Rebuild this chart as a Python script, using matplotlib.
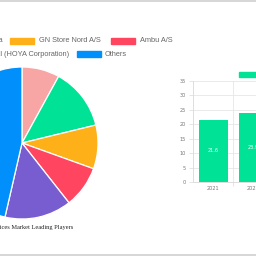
import matplotlib.pyplot as plt
from matplotlib.patches import Rectangle
from matplotlib.lines import Line2D

# pie data (share of market, %)
players = ["Boston Scientific", "Olympus America", "GN Store Nord A/S", "Ambu A/S",
           "Pentax Medical (HOYA Corporation)", "Others"]
shares = [8.0, 13.2, 9.3, 8.9, 14.2, 46.4]
pie_colors = ["#F8A5A6", "#00E396", "#FEB019", "#FF4560", "#775DD0", "#008FFB"]

# bar data
years = ["2021", "2022"]
sizes = [21.6, 23.9]
bar_color = "#00E396"

W = 256.0


def fx(px):
    return px / W


def fy(py):
    return 1 - py / W


fig = plt.figure(figsize=(2.56, 2.56), dpi=100)

# page separators
fig.add_artist(Line2D([0, 1], [fy(0.6)] * 2, color="#d0d0d0", lw=1.2))
fig.add_artist(Line2D([0, 1], [fy(255.4)] * 2, color="#d0d0d0", lw=1.2))

# ---- pie ----
cx, cy, r = 22, 143, 76
ax = fig.add_axes([fx(cx - r), fy(cy + r), 2 * r / W, 2 * r / W])
ax.pie(shares, colors=pie_colors, startangle=90, counterclock=False, radius=1,
       wedgeprops=dict(edgecolor="white", linewidth=0.9))
ax.set_xlim(-1, 1)
ax.set_ylim(-1, 1)
ax.set_aspect("equal")
ax.axis("off")

fig.text(fx(73), fy(227), "Single-Use Endoscopy Devices Market Leading Players",
         ha="right", va="center", fontsize=4.6, family="Liberation Serif", color="#222222")

# legend drawn by hand, two centred rows
legend_font = dict(fontsize=5.35, family="Liberation Sans", color="#666666", va="center")
row1 = [(players[1], -4, 3), (players[2], 10, 39), (players[3], 110.7, 139.7)]
row2 = [(players[4], -40, 69), (players[5], 76.7, 105)]
for items, yy in ((row1, 41), (row2, 54)):
    for lab, bx, tx in items:
        idx = players.index(lab)
        if bx >= 0:
            fig.add_artist(Rectangle((fx(bx), fy(yy + 3)), 24 / W, 6 / W,
                                     transform=fig.transFigure, color=pie_colors[idx]))
            fig.text(fx(tx), fy(yy), lab, ha="left", **legend_font)
        else:
            fig.text(fx(tx), fy(yy), lab, ha="right", **legend_font)

# ---- bars ----
bx = fig.add_axes([fx(193), fy(182), 80 / W, 101 / W])
pos = range(len(years))
bars = bx.bar(pos, sizes, width=0.725, color=bar_color, zorder=3)
for b, v in zip(bars, sizes):
    bx.text(b.get_x() + b.get_width() / 2, v / 2, f"{v}", ha="center", va="center",
            color="white", fontsize=3.6, zorder=4)
bx.set_xlim(-0.5, len(years) - 0.5)
bx.set_ylim(0, 35)
bx.set_yticks(range(0, 36, 5))
bx.set_xticks(list(pos))
bx.set_xticklabels(years)
bx.set_xticks([p + 0.5 for p in pos], minor=True)
bx.grid(axis="y", color="#e6e6e6", lw=0.6, zorder=0)
bx.grid(axis="x", which="minor", color="#e6e6e6", lw=0.6, zorder=0)
bx.tick_params(axis="both", which="major", labelsize=3.6, labelcolor="#777777",
               color="#e0e0e0", length=3, width=0.6, pad=2)
bx.tick_params(axis="x", which="major", length=0, pad=3)
bx.tick_params(axis="x", which="minor", length=3, color="#e0e0e0", width=0.6)
for s in ("top", "right"):
    bx.spines[s].set_visible(False)
for s in ("left", "bottom"):
    bx.spines[s].set_color("#dddddd")
    bx.spines[s].set_linewidth(0.7)

fig.add_artist(Rectangle((fx(239), fy(76.7)), 24 / W, 5 / W,
                         transform=fig.transFigure, color=bar_color))

fig.savefig("out.png", dpi=100)
